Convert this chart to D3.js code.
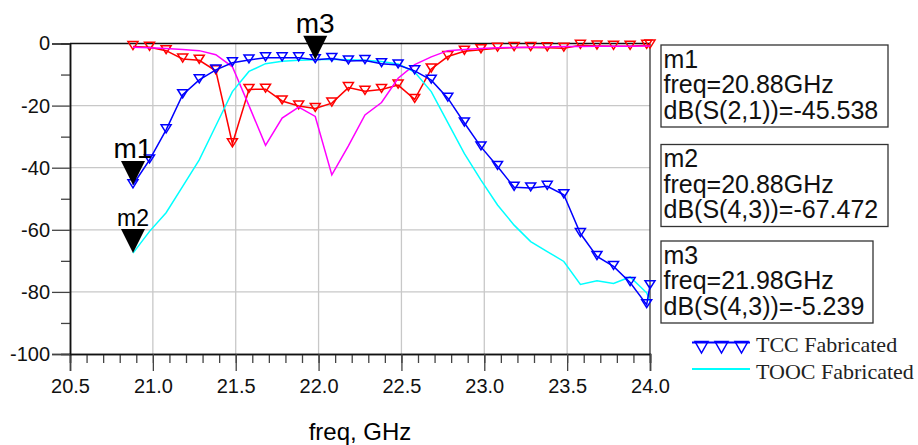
<!DOCTYPE html>
<html>
<head>
<meta charset="utf-8">
<script src="https://cdn.jsdelivr.net/npm/d3@7"></script>
<style>
  body { margin: 0; background: #ffffff; }
  svg { font-family: "Liberation Sans", Arial, sans-serif; }
</style>
</head>
<body>
<svg width="918" height="445"></svg>
<script>
// frequency points (GHz)
var freq = [20.88, 20.98, 21.08, 21.18, 21.28, 21.38, 21.48, 21.58, 21.68, 21.78, 21.88,
            21.98, 22.08, 22.18, 22.28, 22.38, 22.48, 22.58, 22.68, 22.78, 22.88, 22.98,
            23.08, 23.18, 23.28, 23.38, 23.48, 23.58, 23.68, 23.78, 23.88, 23.98, 24.0]

// TCC Fabricated, dB(S(2,1)) - blue with triangles
var tccS21 = [-45.5, -37.5, -27.8, -16.5, -11.7, -8.5, -6.2, -5.3, -4.6, -4.6, -4.6,
              -5.2, -4.8, -5.6, -5.5, -6.5, -6.9, -8.8, -11.8, -17.6, -25.6, -33.3,
              -39.6, -46.3, -46.5, -46.0, -48.7, -61.2, -68.6, -71.8, -77.0, -84.1, -78.0]

// TCC Fabricated, dB(S(1,1)) - red with triangles
var tccS11 = [-1.0, -1.2, -2.3, -5.0, -5.4, -8.8, -32.3, -14.8, -14.7, -18.5, -20.1,
              -20.9, -19.2, -14.2, -15.4, -14.8, -13.4, -18.0, -8.2, -4.2, -2.5, -2.0,
              -1.5, -1.3, -1.3, -1.4, -1.5, -0.6, -0.8, -0.9, -0.9, -0.6, -0.5]

// TOOC Fabricated, dB(S(4,3)) - cyan
var toocS43 = [-67.5, -60.5, -54.5, -46.0, -37.5, -26.5, -15.5, -9.0, -6.5, -5.7, -5.4,
               -5.24, -5.1, -5.2, -5.4, -5.8, -6.6, -9.2, -15.5, -25.5, -35.5, -44.0,
               -52.0, -58.5, -63.8, -67.0, -70.2, -77.6, -76.4, -77.3, -75.2, -80.3, -83.0]

// TOOC Fabricated, dB(S(3,3)) - magenta
var toocS33 = [-1.2, -1.4, -1.6, -1.9, -2.3, -3.6, -7.5, -20.0, -32.8, -24.0, -20.5,
               -23.5, -42.3, -33.0, -23.0, -19.0, -11.2, -6.8, -4.3, -2.3, -1.9, -1.6,
               -1.4, -1.3, -1.2, -1.1, -1.0, -1.0, -0.9, -0.9, -0.9, -0.8, -0.8]

var xTicks = [20.5, 21.0, 21.5, 22.0, 22.5, 23.0, 23.5, 24.0]
var yTicks = [0, -20, -40, -60, -80, -100]

// markers
var markerNames = ['m1', 'm2', 'm3']
var markerFreq = [20.88, 20.88, 21.98]
var markerVal = [-45.538, -67.472, -5.239]
var markerTrace = ['dB(S(2,1))', 'dB(S(4,3))', 'dB(S(4,3))']

var svg = d3.select('svg')
var pLeft = 70, pRight = 650, pTop = 43.5, pBottom = 354

var x = d3.scaleLinear().domain([20.5, 24]).range([pLeft, pRight])
var y = d3.scaleLinear().domain([-100, 0]).range([pBottom, pTop])

// grid
svg.append('g').selectAll('line')
    .data(xTicks.slice(1, -1))
    .enter().append('line')
    .attr('x1', d => x(d)).attr('x2', d => x(d))
    .attr('y1', pTop).attr('y2', pBottom)
    .attr('stroke', '#c8c8c8').attr('stroke-width', 1.3)
svg.append('g').selectAll('line')
    .data(yTicks.slice(1, -1))
    .enter().append('line')
    .attr('x1', pLeft).attr('x2', pRight)
    .attr('y1', d => y(d)).attr('y2', d => y(d))
    .attr('stroke', '#c8c8c8').attr('stroke-width', 1.3)

// frame top + right
svg.append('line').attr('x1', pLeft).attr('x2', pRight).attr('y1', pTop).attr('y2', pTop)
    .attr('stroke', '#111').attr('stroke-width', 1.3)
svg.append('line').attr('x1', pRight).attr('x2', pRight).attr('y1', pTop).attr('y2', pBottom)
    .attr('stroke', '#333').attr('stroke-width', 1.3)

// axes
var minorX = d3.range(206, 241).map(d => d / 10)
svg.append('g')
    .attr('transform', 'translate(0,' + pBottom + ')')
    .call(d3.axisBottom(x).tickValues(minorX).tickSize(9).tickFormat(''))
svg.append('g')
    .attr('transform', 'translate(0,' + pBottom + ')')
    .call(d3.axisBottom(x).tickValues(xTicks).tickSize(17).tickPadding(8).tickFormat(d => d.toFixed(1)))

svg.append('g')
    .attr('transform', 'translate(' + pLeft + ',0)')
    .call(d3.axisLeft(y).tickValues([-10, -30, -50, -70, -90]).tickSize(9).tickFormat(''))
svg.append('g')
    .attr('transform', 'translate(' + pLeft + ',0)')
    .call(d3.axisLeft(y).tickValues(yTicks).tickSize(18).tickPadding(2).tickFormat(d => String(d)))

svg.selectAll('.domain').attr('stroke', '#111').attr('stroke-width', 1.5)
svg.selectAll('.tick line').attr('stroke', '#444').attr('stroke-width', 1.3)
svg.selectAll('.tick text').style('font-size', '20px').style('font-family', '"Liberation Sans", Arial, sans-serif').attr('fill', '#111')

svg.append('text')
    .attr('x', (pLeft + pRight) / 2).attr('y', 440)
    .attr('text-anchor', 'middle')
    .style('font-size', '24px')
    .text('freq, GHz')

// traces
var line = d3.line()
    .x(d => x(d[0]))
    .y(d => y(d[1]))

function pairs(vals) {
    return freq.map((f, i) => [f, vals[i]])
}

function tri(cx, cy, w, h) {
    return 'M' + (cx - w / 2) + ',' + (cy - h / 2) + 'L' + (cx + w / 2) + ',' + (cy - h / 2) + 'L' + cx + ',' + (cy + h / 2) + 'Z'
}

function drawTrace(vals, color, markers) {
    svg.append('path')
        .datum(pairs(vals))
        .attr('d', line)
        .attr('fill', 'none')
        .attr('stroke', color)
        .attr('stroke-width', 1.5)
    if (markers) {
        svg.append('g').selectAll('path')
            .data(pairs(vals))
            .enter().append('path')
            .attr('d', d => tri(x(d[0]), y(d[1]) - 1, 10, 8))
            .attr('fill', 'none')
            .attr('stroke', color)
            .attr('stroke-width', 1.5)
    }
}

drawTrace(tccS11, '#ff0000', true)
drawTrace(toocS33, '#ff00ff', false)
drawTrace(toocS43, '#00ffff', false)
drawTrace(tccS21, '#0000ff', true)

// marker triangles + names
var mk = svg.append('g').selectAll('g')
    .data(markerNames)
    .enter().append('g')

mk.append('path')
    .attr('d', (d, i) => {
        var px = x(markerFreq[i]), py = y(markerVal[i])
        return 'M' + px + ',' + py + 'L' + (px - 12) + ',' + (py - 24) + 'L' + (px + 12) + ',' + (py - 24) + 'Z'
    })
    .attr('fill', '#000')

mk.append('text')
    .attr('x', (d, i) => x(markerFreq[i]))
    .attr('y', (d, i) => y(markerVal[i]) - 27)
    .attr('text-anchor', 'middle')
    .style('font-size', (d, i) => i == 1 ? '23px' : '28px')
    .text(d => d)

// marker readout boxes
var boxTop = [45, 144.5, 241]
var boxW = [227, 227, 212]
var boxes = svg.append('g').selectAll('g')
    .data(markerNames)
    .enter().append('g')
    .attr('transform', (d, i) => 'translate(661,' + boxTop[i] + ')')

boxes.append('rect')
    .attr('width', (d, i) => boxW[i]).attr('height', 82)
    .attr('fill', '#fff')
    .attr('stroke', '#333').attr('stroke-width', 1.3)

boxes.each(function(d, i) {
    var lines = [d, 'freq=' + markerFreq[i].toFixed(2) + 'GHz', markerTrace[i] + '=' + markerVal[i].toFixed(3)]
    d3.select(this).selectAll('text')
        .data(lines)
        .enter().append('text')
        .attr('x', 2.5)
        .attr('y', (t, j) => 22.5 + j * 25.5)
        .style('font-size', '25px')
        .attr('fill', '#111')
        .text(t => t)
})

// legend
var legNames = ['TCC Fabricated', 'TOOC Fabricated']
var legColors = ['#0000ff', '#00ffff']
var legY = [342.5, 369]

var leg = svg.append('g').selectAll('g')
    .data(legNames)
    .enter().append('g')

leg.append('line')
    .attr('x1', 692).attr('x2', 750)
    .attr('y1', (d, i) => legY[i]).attr('y2', (d, i) => legY[i])
    .attr('stroke', (d, i) => legColors[i])
    .attr('stroke-width', 2)

leg.append('text')
    .attr('x', 756)
    .attr('y', (d, i) => legY[i] + 9.5)
    .style('font-family', '"Liberation Serif", "Times New Roman", serif')
    .style('font-size', '22px')
    .attr('fill', '#222')
    .text(d => d)

svg.append('g').selectAll('path')
    .data([701.5, 721.5, 741.5])
    .enter().append('path')
    .attr('d', d => 'M' + (d - 6.5) + ',' + 341.5 + 'L' + (d + 6.5) + ',' + 341.5 + 'L' + d + ',' + 353 + 'Z')
    .attr('fill', 'none')
    .attr('stroke', '#0000ff')
    .attr('stroke-width', 1.5)
</script>
</body>
</html>
